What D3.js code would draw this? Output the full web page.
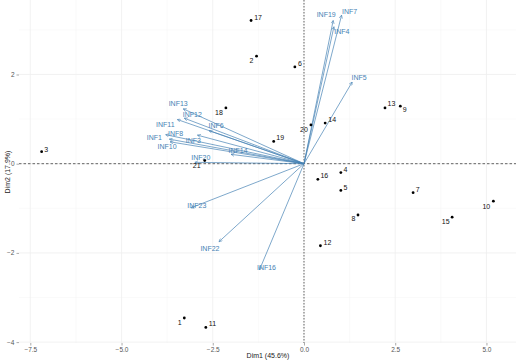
<!DOCTYPE html>
<html>
<head>
<meta charset="utf-8">
<script src="https://d3js.org/d3.v7.min.js"></script>
<style>
  body { margin: 0; background: #fff; }
  text { font-family: "Liberation Sans", Arial, sans-serif; }
</style>
</head>
<body>
<svg width="519" height="363"></svg>
<script>
// individuals
const indNames = ['1','2','3','4','5','6','7','8','9','10','11','12','13','14','15','16','17','18','19','20','21'];
const indX = [-3.28,-1.30,-7.19,1.01,1.01,-0.25,2.99,1.48,2.64,5.19,-2.69,0.45,2.22,0.58,4.06,0.38,-1.45,-2.14,-0.83,0.19,-2.72];
const indY = [-3.46,2.41,0.27,-0.20,-0.60,2.17,-0.65,-1.15,1.29,-0.84,-3.67,-1.84,1.25,0.91,-1.20,-0.35,3.21,1.25,0.50,0.87,0.07];

// variables (arrow tips)
const varNames = ['INF1','INF3','INF4','INF5','INF6','INF7','INF8','INF10','INF11','INF12','INF13','INF14','INF16','INF19','INF20','INF22','INF23'];
const varX = [-3.69,-2.92,0.82,1.32,-2.60,1.03,-3.79,-3.67,-3.47,-3.28,-3.31,-2.00,-1.22,0.80,-2.99,-2.33,-3.10];
const varY = [0.55,0.64,3.07,1.83,0.74,3.33,0.65,0.49,0.99,1.02,1.23,0.21,-2.38,3.21,0.03,-1.75,-0.99];

const xTicks = [-7.5,-5,-2.5,0,2.5,5];
const yTicks = [-4,-2,0,2];
const xMinor = [-6.25,-3.75,-1.25,1.25,3.75];
const yMinor = [-3,-1,1,3];

// label nudges in px (layout only)
const indNudge = {
  '1':[-4.5,4.3],'2':[-5,4],'3':[4.5,-2],'4':[4.5,-3],'5':[4.5,-2.5],'6':[5,-3],'7':[4.5,-2.7],
  '8':[-4.5,4],'9':[4.5,3],'10':[-7,5],'11':[6.6,-3.6],'12':[7,-3.7],'13':[6.5,-4],'14':[7,-4],
  '15':[-6.5,4.7],'16':[6.5,-3.5],'17':[7,-3],'18':[-7,5],'19':[6.5,-4],'20':[-7,5],'21':[-8,5]
};
const varNudge = {
  'INF1':[-15,-1.5],'INF3':[-4,5.5],'INF4':[8,5],'INF5':[7,-5],'INF6':[7,-5],'INF7':[8,-4],
  'INF8':[10,-1],'INF10':[-3,5],'INF11':[-12,5],'INF12':[8,-4],'INF13':[-5,-5.5],'INF14':[7,-4],
  'INF16':[7,-2],'INF19':[-7,-5.7],'INF20':[6,-5],'INF22':[-9,7],'INF23':[6,-2.5]
};

const svg = d3.select('svg');
const x = d3.scaleLinear().domain([-7.81, 5.81]).range([19, 516]);
const y = d3.scaleLinear().domain([-4.02, 3.67]).range([343, 0]);
const blue = 'steelblue';

// grid
const grid = svg.append('g');
grid.selectAll('.xm').data(xMinor).enter().append('line')
  .attr('x1', d => x(d)).attr('x2', d => x(d)).attr('y1', 0).attr('y2', 343)
  .attr('stroke', '#f5f5f5').attr('stroke-width', 0.5);
grid.selectAll('.ym').data(yMinor).enter().append('line')
  .attr('y1', d => y(d)).attr('y2', d => y(d)).attr('x1', 19).attr('x2', 516)
  .attr('stroke', '#f5f5f5').attr('stroke-width', 0.5);
grid.selectAll('.xM').data(xTicks).enter().append('line')
  .attr('x1', d => x(d)).attr('x2', d => x(d)).attr('y1', 0).attr('y2', 343)
  .attr('stroke', '#efefef').attr('stroke-width', 0.8);
grid.selectAll('.yM').data(yTicks).enter().append('line')
  .attr('y1', d => y(d)).attr('y2', d => y(d)).attr('x1', 19).attr('x2', 516)
  .attr('stroke', '#efefef').attr('stroke-width', 0.8);

// axes
const xAxis = svg.append('g').attr('transform', 'translate(0,343)')
  .call(d3.axisBottom(x).tickValues(xTicks).tickFormat(d3.format('.1f')).tickSize(2.5).tickPadding(2));
const yAxis = svg.append('g').attr('transform', 'translate(19,0)')
  .call(d3.axisLeft(y).tickValues(yTicks).tickFormat(d3.format('d')).tickSize(2.5).tickPadding(2));
[xAxis, yAxis].forEach(a => {
  a.select('.domain').remove();
  a.selectAll('.tick line').attr('stroke', '#555').attr('stroke-width', 0.5);
  a.selectAll('.tick text').attr('fill', '#555').style('font-size', '6.5px')
    .style('font-family', '"Liberation Sans", Arial, sans-serif');
});

// zero lines
svg.append('line').attr('x1', 19).attr('x2', 516).attr('y1', y(0)).attr('y2', y(0))
  .attr('stroke', '#000').attr('stroke-width', 0.6).attr('stroke-dasharray', '2.5,2');
svg.append('line').attr('x1', x(0)).attr('x2', x(0)).attr('y1', 0).attr('y2', 343)
  .attr('stroke', '#000').attr('stroke-width', 0.6).attr('stroke-dasharray', '1.5,1.5');

// arrow marker
svg.append('defs').append('marker')
  .attr('id', 'ah').attr('viewBox', '0 0 10 10').attr('refX', 9).attr('refY', 5)
  .attr('markerWidth', 4).attr('markerHeight', 4).attr('orient', 'auto-start-reverse')
  .attr('markerUnits', 'userSpaceOnUse')
  .append('path').attr('d', 'M1,1 L9,5 L1,9').attr('fill', 'none')
  .attr('stroke', blue).attr('stroke-width', 1.4);

const vars = varNames.map((n, i) => ({ n, x: varX[i], y: varY[i] }));
svg.append('g').selectAll('line').data(vars).enter().append('line')
  .attr('x1', x(0)).attr('y1', y(0))
  .attr('x2', d => x(d.x)).attr('y2', d => y(d.y))
  .attr('stroke', blue).attr('stroke-width', 0.7)
  .attr('marker-end', 'url(#ah)');
svg.append('g').selectAll('text').data(vars).enter().append('text')
  .attr('x', d => x(d.x) + varNudge[d.n][0])
  .attr('y', d => y(d.y) + varNudge[d.n][1])
  .attr('text-anchor', 'middle').attr('dominant-baseline', 'central')
  .attr('fill', blue).style('font-size', '7px')
  .text(d => d.n);

// individuals
const inds = indNames.map((n, i) => ({ n, x: indX[i], y: indY[i] }));
svg.append('g').selectAll('circle').data(inds).enter().append('circle')
  .attr('cx', d => x(d.x)).attr('cy', d => y(d.y)).attr('r', 1.4).attr('fill', '#000');
svg.append('g').selectAll('text').data(inds).enter().append('text')
  .attr('x', d => x(d.x) + indNudge[d.n][0])
  .attr('y', d => y(d.y) + indNudge[d.n][1])
  .attr('text-anchor', 'middle').attr('dominant-baseline', 'central')
  .attr('fill', '#111').style('font-size', '7px')
  .text(d => d.n);

// axis titles
svg.append('text').attr('x', 268).attr('y', 358).attr('text-anchor', 'middle')
  .attr('fill', '#222').style('font-size', '7px').text('Dim1 (45.6%)');
svg.append('text').attr('transform', 'translate(7,172) rotate(-90)')
  .attr('text-anchor', 'middle').attr('dominant-baseline', 'central')
  .attr('fill', '#222').style('font-size', '7px').text('Dim2 (17.9%)');
</script>
</body>
</html>
